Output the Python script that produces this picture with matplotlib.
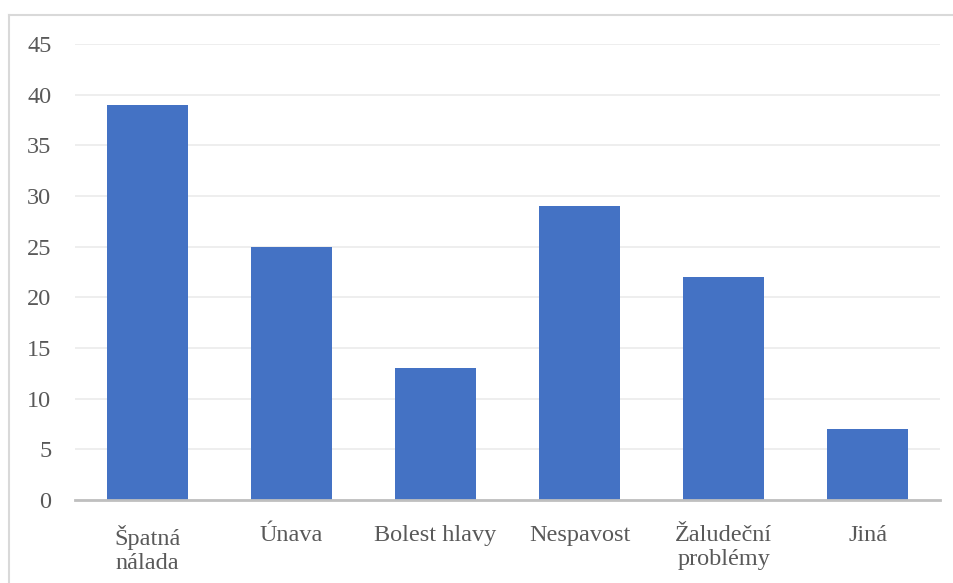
import matplotlib
matplotlib.use("Agg")
import matplotlib.pyplot as plt
from matplotlib.lines import Line2D

categories = ["Špatná\nnálada", "Únava", "Bolest hlavy", "Nespavost", "Žaludeční\nproblémy", "Jiná"]
values = [39, 25, 13, 29, 22, 7]
y_ticks = [0, 5, 10, 15, 20, 25, 30, 35, 40, 45]

bar_color = "#4472C4"
text_color = "#595959"

plt.rcParams["font.family"] = ["Liberation Serif", "DejaVu Serif"]

fig = plt.figure(figsize=(9.54, 5.83), dpi=100)
ax = fig.add_axes([75 / 954, 83 / 583, 865 / 954, 456 / 583])

x = range(len(categories))
ax.bar(x, values, width=0.5625, color=bar_color, zorder=3)

ax.set_xlim(-0.5, len(categories) - 0.5)
ax.set_ylim(0, 45)
ax.set_yticks(y_ticks)
ax.set_xticks(list(x))
ax.set_xticklabels(categories, linespacing=1.2)

ax.grid(axis="y", color="#EDEDED", linewidth=1.3, zorder=0)
ax.tick_params(axis="both", length=0, colors=text_color, labelsize=17.5)
ax.tick_params(axis="y", pad=17)
ax.tick_params(axis="x", pad=18)

for side in ("top", "right", "left"):
    ax.spines[side].set_visible(False)
ax.spines["bottom"].set_color("#BFBFBF")
ax.spines["bottom"].set_linewidth(2)
ax.spines["bottom"].set_zorder(4)

# chart frame (top and left edges)
fx = 9.5 / 954
fy = 1 - 14.5 / 583
fig.add_artist(Line2D([fx, 1.05], [fy, fy], transform=fig.transFigure,
                      color="#D9D9D9", linewidth=1.5))
fig.add_artist(Line2D([fx, fx], [-0.05, fy], transform=fig.transFigure,
                      color="#D9D9D9", linewidth=1.5))

fig.savefig("out.png", dpi=100, facecolor="white")
